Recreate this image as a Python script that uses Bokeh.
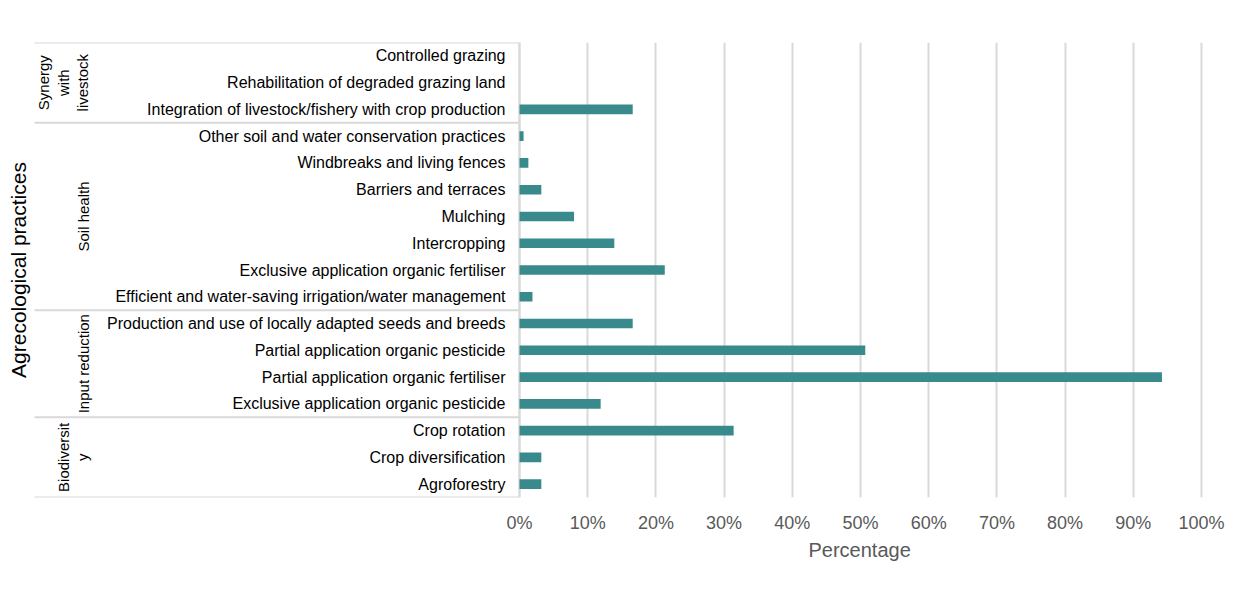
import numpy as np
from bokeh.plotting import figure
from bokeh.models import Range1d, FixedTicker, NumeralTickFormatter, ColumnDataSource, Title
from bokeh.core.properties import value
from bokeh.embed import file_html
from bokeh.resources import INLINE

# ---------------- data ----------------
groups = ["Synergy\nwith\nlivestock", "Soil health", "Input reduction", "Biodiversit\ny"]
group_sizes = [3, 7, 4, 3]
practices = [
    "Controlled grazing",
    "Rehabilitation of degraded grazing land",
    "Integration of livestock/fishery with crop production",
    "Other soil and water conservation practices",
    "Windbreaks and living fences",
    "Barriers and terraces",
    "Mulching",
    "Intercropping",
    "Exclusive application organic fertiliser",
    "Efficient and water-saving irrigation/water management",
    "Production and use of locally adapted seeds and breeds",
    "Partial application organic pesticide",
    "Partial application organic fertiliser",
    "Exclusive application organic pesticide",
    "Crop rotation",
    "Crop diversification",
    "Agroforestry",
]
percentages = [0.0, 0.0, 0.166, 0.006, 0.013, 0.032, 0.080, 0.139, 0.213, 0.019,
               0.166, 0.507, 0.942, 0.119, 0.314, 0.032, 0.032]
x_ticks = [0.0, 0.1, 0.2, 0.3, 0.4, 0.5, 0.6, 0.7, 0.8, 0.9, 1.0]
x_title = "Percentage"
y_title = "Agrecological practices"

# ---------------- layout helpers ----------------
n = len(practices)
y_centers = [i + 0.5 for i in range(n)]
bounds = np.concatenate([[0], np.cumsum(group_sizes)]).astype(float)
group_mid = list((bounds[:-1] + bounds[1:]) / 2)

FONT = "Liberation Sans"
GRID = "#D9D9D9"
BAR = "#388A8C"
W, H = 1242, 590
TOP, BOTTOM, RIGHT = 42, 93, 39
ZERO_PX = 519          # pixel column of the 0% line
PX_PER_UNIT = 682.0    # pixels per 100%
x_end = (W - RIGHT - ZERO_PX) / PX_PER_UNIT
x_start = -ZERO_PX / PX_PER_UNIT


def px(xp):
    """convert a pixel column of the label panel into data units"""
    return (xp - ZERO_PX) / PX_PER_UNIT


p = figure(width=W, height=H, x_range=Range1d(x_start, x_end), y_range=Range1d(n, 0),
           y_axis_location=None, toolbar_location=None, output_backend="svg",
           min_border_left=0, min_border_right=RIGHT,
           min_border_top=TOP, min_border_bottom=BOTTOM,
           outline_line_color=None, background_fill_color="white",
           border_fill_color="white")

# grid
p.ygrid.visible = False
p.xgrid.ticker = FixedTicker(ticks=x_ticks)
p.xgrid.grid_line_color = GRID
p.xgrid.grid_line_width = 2

# label panel frame
p.segment(x0=px(34), x1=0, y0=bounds, y1=bounds, line_color=GRID, line_width=2)
p.segment(x0=[0], x1=[0], y0=[0], y1=[n], line_color=GRID, line_width=2)

# bars
p.hbar(y=y_centers, left=0, right=percentages, height=0.36,
       fill_color=BAR, line_color=None)

# category labels
src = ColumnDataSource(dict(y=y_centers, text=practices))
p.text(x=px(505), y="y", text="text", source=src, text_align="right",
       text_baseline="middle", text_font=value(FONT), text_font_size="16px",
       text_color="#000000")

# group labels
gsrc = ColumnDataSource(dict(y=group_mid, text=groups))
p.text(x=px(91), y="y", text="text", source=gsrc, angle=np.pi / 2,
       text_align="center", text_baseline="bottom", text_font=value(FONT),
       text_font_size="15px", text_color="#000000", text_line_height=1.15)

# y title
p.text(x=[px(18)], y=[n / 2], text=[y_title], angle=np.pi / 2, text_align="center",
       text_baseline="middle", text_font=value(FONT), text_font_size="21px",
       text_color="#000000")

# x axis
ax = p.xaxis[0]
ax.ticker = FixedTicker(ticks=x_ticks)
ax.formatter = NumeralTickFormatter(format="0%")
ax.axis_line_color = None
ax.major_tick_line_color = None
ax.minor_tick_line_color = None
ax.major_tick_out = 0
ax.major_tick_in = 0
ax.major_label_standoff = 15
ax.major_label_text_font = FONT
ax.major_label_text_font_size = "18px"
ax.major_label_text_color = "#595959"

# x title placed under the bar area
p.add_layout(Title(text=x_title, align="left", offset=808,
                   text_font=FONT, text_font_size="20px", text_font_style="normal",
                   text_color="#595959", standoff=2), "below")

open("out.html", "w").write(file_html(p, INLINE))
